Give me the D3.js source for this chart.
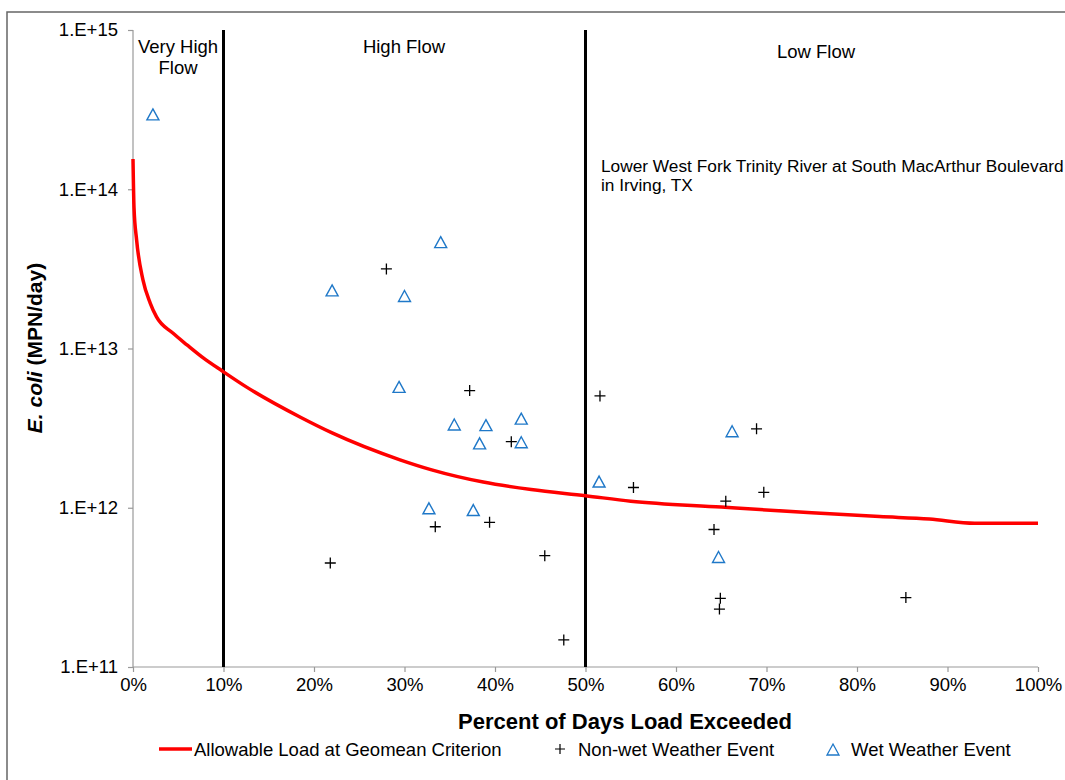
<!DOCTYPE html>
<html>
<head>
<meta charset="utf-8">
<script src="https://cdn.jsdelivr.net/npm/d3@7"></script>
<style>
  body { margin: 0; background: #fff; }
  text { font-family: "Liberation Sans", Arial, sans-serif; fill: #000; }
</style>
</head>
<body>
<svg width="1065" height="780"></svg>
<script>
// allowable load curve (percent exceeded, load)
var curvePct = [0, 0.0011, 0.004, 0.011, 0.019, 0.026, 0.044, 0.060, 0.078, 0.099, 0.126, 0.185, 0.22, 0.295, 0.33, 0.387, 0.44, 0.50, 0.55, 0.65, 0.75, 0.825, 0.88, 0.93, 1.0];
var curveLoad = [1.55e14, 7.7e13, 4.8e13, 2.7e13, 1.93e13, 1.58e13, 1.25e13, 1.05e13, 8.7e12, 7.2e12, 5.7e12, 3.7e12, 2.95e12, 2.0e12, 1.73e12, 1.45e12, 1.3e12, 1.19e12, 1.1e12, 1.01e12, 0.93e12, 0.88e12, 0.85e12, 0.80e12, 0.80e12];

// non-wet weather events
var dryPct = [0.218, 0.280, 0.334, 0.372, 0.394, 0.418, 0.455, 0.476, 0.516, 0.553, 0.655, 0.642, 0.689, 0.697, 0.649, 0.648, 0.854];
var dryLoad = [4.5e11, 3.16e13, 7.6e11, 5.44e12, 8.1e11, 2.6e12, 5.0e11, 1.48e11, 5.04e12, 1.34e12, 1.10e12, 7.3e11, 3.13e12, 1.25e12, 2.7e11, 2.31e11, 2.73e11];

// wet weather events
var wetPct = [0.022, 0.220, 0.300, 0.340, 0.294, 0.355, 0.390, 0.383, 0.429, 0.429, 0.327, 0.376, 0.515, 0.662, 0.647];
var wetLoad = [2.93e14, 2.30e13, 2.12e13, 4.62e13, 5.7e12, 3.31e12, 3.28e12, 2.52e12, 3.6e12, 2.56e12, 9.85e11, 9.6e11, 1.45e12, 3.0e12, 4.87e11];

var flowBreaks = [0.1, 0.5];
var yTicks = [1e11, 1e12, 1e13, 1e14, 1e15];
var xTicks = d3.range(0, 11).map(d => d / 10);

// plot area
var pLeft = 133, pRight = 1038, pTop = 30, pBottom = 667;

var svg = d3.select("svg");

// outer chart frame
svg.append("rect")
    .attr("x", 7).attr("y", 12)
    .attr("width", 1070).attr("height", 800)
    .attr("fill", "none")
    .attr("stroke", "#666")
    .attr("stroke-width", 1.5);

var xScale = d3.scaleLinear().domain([0, 1]).range([pLeft, pRight]);
var yScale = d3.scaleLog().domain([1e11, 1e15]).range([pBottom, pTop]);

var xAxis = d3.axisBottom(xScale)
    .tickValues(xTicks)
    .tickSize(5)
    .tickFormat(d3.format(".0%"));
var yAxis = d3.axisLeft(yScale)
    .tickValues(yTicks)
    .tickSize(5)
    .tickFormat(d => "1.E+" + Math.round(Math.log10(d)));

var gx = svg.append("g")
    .attr("transform", "translate(0," + pBottom + ")")
    .call(xAxis);
var gy = svg.append("g")
    .attr("transform", "translate(" + pLeft + ",0)")
    .call(yAxis);

[gx, gy].forEach(function(g) {
    g.select(".domain").attr("stroke", "#999").attr("stroke-width", 1.2);
    g.selectAll(".tick line").attr("stroke", "#999").attr("stroke-width", 1.2);
    g.selectAll(".tick text")
        .attr("font-family", "Liberation Sans, Arial, sans-serif")
        .attr("font-size", 18.5)
        .attr("fill", "#000");
});
gx.select(".domain").attr("d", "M" + pLeft + ",0H" + pRight);
gy.select(".domain").attr("d", "M0," + pBottom + "V" + pTop);
gx.selectAll(".tick text").attr("y", 11).attr("dy", "0.71em");
gy.selectAll(".tick text").attr("x", -15);

// flow regime dividers
svg.selectAll("line.flow")
    .data(flowBreaks)
    .enter()
    .append("line")
        .attr("x1", d => xScale(d)).attr("x2", d => xScale(d))
        .attr("y1", pTop).attr("y2", pBottom)
        .attr("stroke", "#000")
        .attr("stroke-width", 3);

// allowable load line
var line = d3.line()
    .x((d, i) => xScale(curvePct[i]))
    .y(d => yScale(d))
    .curve(d3.curveMonotoneX);
svg.append("path")
    .datum(curveLoad)
    .attr("d", line)
    .attr("fill", "none")
    .attr("stroke", "#ff0000")
    .attr("stroke-width", 3.5)
    .attr("stroke-linejoin", "round");

var cross = "M-5.5,0H5.5M0,-5.5V5.5";
var tri = "M0,-6L6,5H-6Z";

svg.selectAll("path.dry")
    .data(dryLoad)
    .enter()
    .append("path")
        .attr("class", "dry")
        .attr("transform", (d, i) => "translate(" + xScale(dryPct[i]) + "," + yScale(d) + ")")
        .attr("d", cross)
        .attr("stroke", "#000")
        .attr("stroke-width", 1.3);

svg.selectAll("path.wet")
    .data(wetLoad)
    .enter()
    .append("path")
        .attr("class", "wet")
        .attr("transform", (d, i) => "translate(" + xScale(wetPct[i]) + "," + yScale(d) + ")")
        .attr("d", tri)
        .attr("fill", "none")
        .attr("stroke", "#1f78c8")
        .attr("stroke-width", 1.4);

// flow regime labels
function label(x, y, t) {
    return svg.append("text")
        .attr("x", x).attr("y", y)
        .attr("text-anchor", "middle")
        .attr("font-size", 18.5)
        .text(t);
}
label(178, 53, "Very High");
label(178, 74, "Flow");
label(404, 53, "High Flow");
label(816, 58, "Low Flow");

svg.append("text")
    .attr("x", 601).attr("y", 172)
    .attr("font-size", 17.3)
    .text("Lower West Fork Trinity River at South MacArthur Boulevard");
svg.append("text")
    .attr("x", 601).attr("y", 191)
    .attr("font-size", 17.3)
    .text("in Irving, TX");

// axis titles
svg.append("text")
    .attr("x", 625).attr("y", 729)
    .attr("text-anchor", "middle")
    .attr("font-size", 22)
    .attr("font-weight", "bold")
    .text("Percent of Days Load Exceeded");

var yt = svg.append("text")
    .attr("transform", "rotate(-90)")
    .attr("x", -348).attr("y", 42)
    .attr("text-anchor", "middle")
    .attr("font-size", 21)
    .attr("font-weight", "bold");
yt.append("tspan").attr("font-style", "italic").text("E. coli");
yt.append("tspan").text(" (MPN/day)");

// legend
var ly = 749;
svg.append("line")
    .attr("x1", 159).attr("x2", 192)
    .attr("y1", ly).attr("y2", ly)
    .attr("stroke", "#ff0000").attr("stroke-width", 3.5);
svg.append("text").attr("x", 194).attr("y", ly + 6.5).attr("font-size", 18.5)
    .text("Allowable Load at Geomean Criterion");
svg.append("path")
    .attr("transform", "translate(560," + ly + ")")
    .attr("d", "M-5,0H5M0,-5V5")
    .attr("stroke", "#000").attr("stroke-width", 1.2);
svg.append("text").attr("x", 578).attr("y", ly + 6.5).attr("font-size", 18.5)
    .text("Non-wet Weather Event");
svg.append("path")
    .attr("transform", "translate(833," + (ly + 1) + ")")
    .attr("d", "M0,-6L6,5H-6Z")
    .attr("fill", "none")
    .attr("stroke", "#1f78c8").attr("stroke-width", 1.3);
svg.append("text").attr("x", 851).attr("y", ly + 6.5).attr("font-size", 18.5)
    .text("Wet Weather Event");
</script>
</body>
</html>
